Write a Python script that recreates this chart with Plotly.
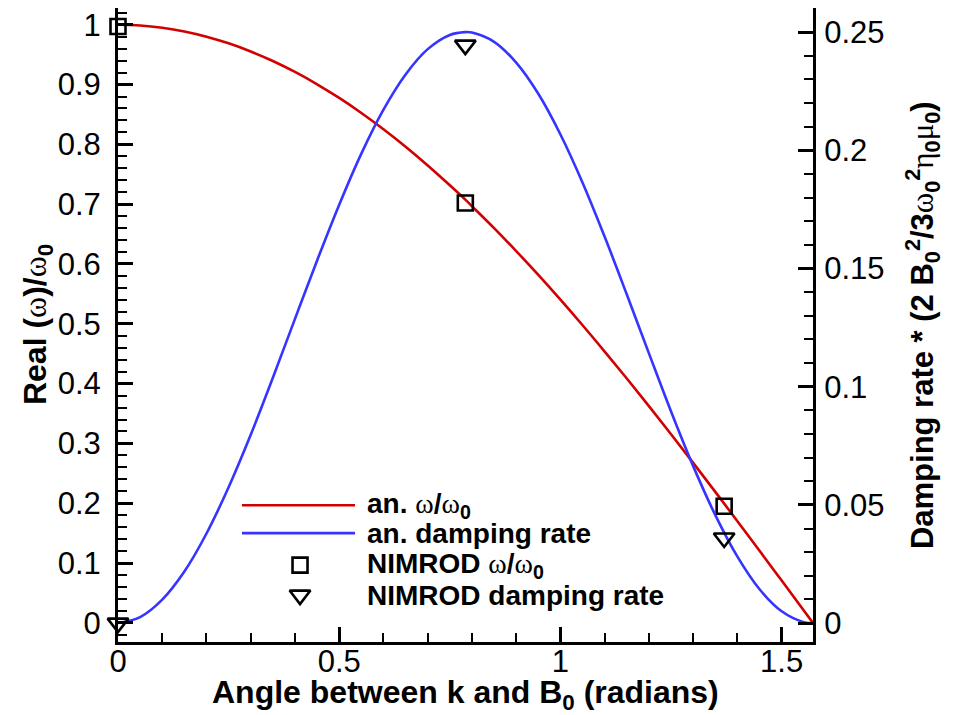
import plotly.graph_objects as go

# ---- data ----
angle = [0.0, 0.05, 0.10, 0.15, 0.20, 0.25, 0.30, 0.35, 0.40, 0.45, 0.50, 0.55,
         0.60, 0.65, 0.70, 0.75, 0.785, 0.80, 0.85, 0.90, 0.95, 1.00, 1.05, 1.10,
         1.15, 1.20, 1.25, 1.30, 1.35, 1.40, 1.45, 1.50, 1.55, 1.5708]
an_omega = [1.0, 0.9988, 0.9950, 0.9888, 0.9801, 0.9689, 0.9553, 0.9394, 0.9211,
            0.9005, 0.8776, 0.8525, 0.8253, 0.7961, 0.7648, 0.7317, 0.7077, 0.6967,
            0.6600, 0.6216, 0.5817, 0.5403, 0.4976, 0.4536, 0.4085, 0.3624, 0.3153,
            0.2675, 0.2190, 0.1700, 0.1205, 0.0707, 0.0208, 0.0]
an_damping = [0.0, 0.0025, 0.0099, 0.0218, 0.0379, 0.0575, 0.0797, 0.1038, 0.1287,
              0.1534, 0.1770, 0.1986, 0.2172, 0.2321, 0.2428, 0.2488, 0.2500, 0.2498,
              0.2459, 0.2371, 0.2239, 0.2067, 0.1863, 0.1634, 0.1390, 0.1141, 0.0895,
              0.0664, 0.0457, 0.0281, 0.0143, 0.0050, 0.0004, 0.0]

nimrod_angle = [0.0, 0.785, 1.37]
nimrod_omega = [0.997, 0.702, 0.195]
nimrod_damping = [0.0, 0.2445, 0.036]

legend_labels = [
    "<b>an. </b><span style='font-family:Liberation Serif'>ω</span><b>/</b><span style='font-family:Liberation Serif'>ω</span><b><sub>0</sub></b>",
    "<b>an. damping rate</b>",
    "<b>NIMROD </b><span style='font-family:Liberation Serif'>ω</span><b>/</b><span style='font-family:Liberation Serif'>ω</span><b><sub>0</sub></b>",
    "<b>NIMROD damping rate</b>",
]

RED = "#d20000"
BLUE = "#3535ff"
FONT = "Liberation Sans, Arial, sans-serif"

fig = go.Figure()
fig.add_trace(go.Scatter(x=angle, y=an_omega, mode="lines", line=dict(color=RED, width=2.6, shape="spline"),
                         yaxis="y", showlegend=False, cliponaxis=False))
fig.add_trace(go.Scatter(x=angle, y=an_damping, mode="lines", line=dict(color=BLUE, width=2.6, shape="spline"),
                         yaxis="y2", showlegend=False, cliponaxis=False))
fig.add_trace(go.Scatter(x=nimrod_angle, y=nimrod_omega, mode="markers", yaxis="y",
                         marker=dict(symbol="square-open", size=15, color="black", line=dict(width=2.6, color="black")),
                         showlegend=False, cliponaxis=False))
fig.add_trace(go.Scatter(x=nimrod_angle, y=nimrod_damping, mode="markers", yaxis="y2",
                         marker=dict(symbol="triangle-down-open", size=18, color="black", line=dict(width=2.6, color="black")),
                         showlegend=False, cliponaxis=False))

# ---- hand-made legend (paper-like hidden axes) ----
leg_line_x = [0.1784, 0.341]
leg_y = [0.2157, 0.1717, 0.1213, 0.074]
fig.add_trace(go.Scatter(x=leg_line_x, y=[leg_y[0]] * 2, mode="lines", line=dict(color=RED, width=2.6),
                         xaxis="x3", yaxis="y3", showlegend=False, hoverinfo="skip"))
fig.add_trace(go.Scatter(x=leg_line_x, y=[leg_y[1]] * 2, mode="lines", line=dict(color=BLUE, width=2.6),
                         xaxis="x3", yaxis="y3", showlegend=False, hoverinfo="skip"))
fig.add_trace(go.Scatter(x=[0.2619], y=[leg_y[2]], mode="markers", xaxis="x3", yaxis="y3",
                         marker=dict(symbol="square-open", size=15, color="black", line=dict(width=2.6, color="black")),
                         showlegend=False, hoverinfo="skip"))
fig.add_trace(go.Scatter(x=[0.2619], y=[leg_y[3]], mode="markers", xaxis="x3", yaxis="y3",
                         marker=dict(symbol="triangle-down-open", size=18, color="black", line=dict(width=2.6, color="black")),
                         showlegend=False, hoverinfo="skip"))

annotations = []
for lab, yy in zip(legend_labels, leg_y):
    annotations.append(dict(text=lab, x=0.355, y=yy, xref="paper", yref="paper", xanchor="left", yanchor="middle",
                            showarrow=False, font=dict(family=FONT, size=28, color="black")))

annotations.append(dict(text="<b>Angle between k and B<sub>0</sub> (radians)</b>", x=0.5, y=-0.083, xref="paper", yref="paper",
                        xanchor="center", yanchor="middle", showarrow=False, font=dict(family=FONT, size=32, color="black")))
annotations.append(dict(text="<b>Real (</b><span style='font-family:Liberation Serif'>ω</span><b>)/</b><span style='font-family:Liberation Serif'>ω</span><b><sub>0</sub></b>",
                        x=-0.1165, y=0.5, xref="paper", yref="paper", textangle=-90, xanchor="center", yanchor="middle",
                        showarrow=False, font=dict(family=FONT, size=32, color="black")))
annotations.append(dict(text="<b>Damping rate * (2 B<sub>0</sub><sup>2</sup>/3</b><span style='font-family:Liberation Serif'>ω</span><b><sub>0</sub><sup>2</sup></b>"
                             "<span style='font-family:Liberation Serif'>η</span><b><sub>0</sub></b><span style='font-family:Liberation Serif'>μ</span><b><sub>0</sub>)</b>",
                        x=1.157, y=0.5, xref="paper", yref="paper", textangle=-90, xanchor="center", yanchor="middle",
                        showarrow=False, font=dict(family=FONT, size=31, color="black")))

tickfont = dict(family=FONT, size=31, color="black")
common = dict(showline=True, linewidth=3, linecolor="black", ticks="inside", ticklen=15, tickwidth=3,
              tickcolor="black", showgrid=False, zeroline=False, tickfont=tickfont, automargin=False,
              ticklabeloverflow="allow")

# page body has an 8px margin: figure is sized/offset to compensate
fig.update_layout(
    width=946, height=707,
    margin=dict(l=110, r=141, t=0, b=73),
    paper_bgcolor="white", plot_bgcolor="white",
    showlegend=False,
    xaxis=dict(range=[0, 1.5708], dtick=0.5, tick0=0, ticklabelstandoff=-10,
               minor=dict(dtick=0.1, ticks="inside", ticklen=9, tickwidth=2, tickcolor="black"), **common),
    yaxis=dict(range=[-0.032, 1.028], dtick=0.1, tick0=0, ticklabelstandoff=8,
               minor=dict(dtick=0.02, ticks="inside", ticklen=9, tickwidth=2, tickcolor="black"), **common),
    yaxis2=dict(range=[-0.008, 0.2602], dtick=0.05, tick0=0, overlaying="y", side="right", ticklabelstandoff=2,
                minor=dict(dtick=0.01, ticks="inside", ticklen=9, tickwidth=2, tickcolor="black"), **common),
    xaxis3=dict(range=[0, 1], overlaying="x", visible=False, fixedrange=True),
    yaxis3=dict(range=[0, 1], overlaying="y", visible=False, fixedrange=True),
    annotations=annotations,
)

fig.write_html("out.html")
